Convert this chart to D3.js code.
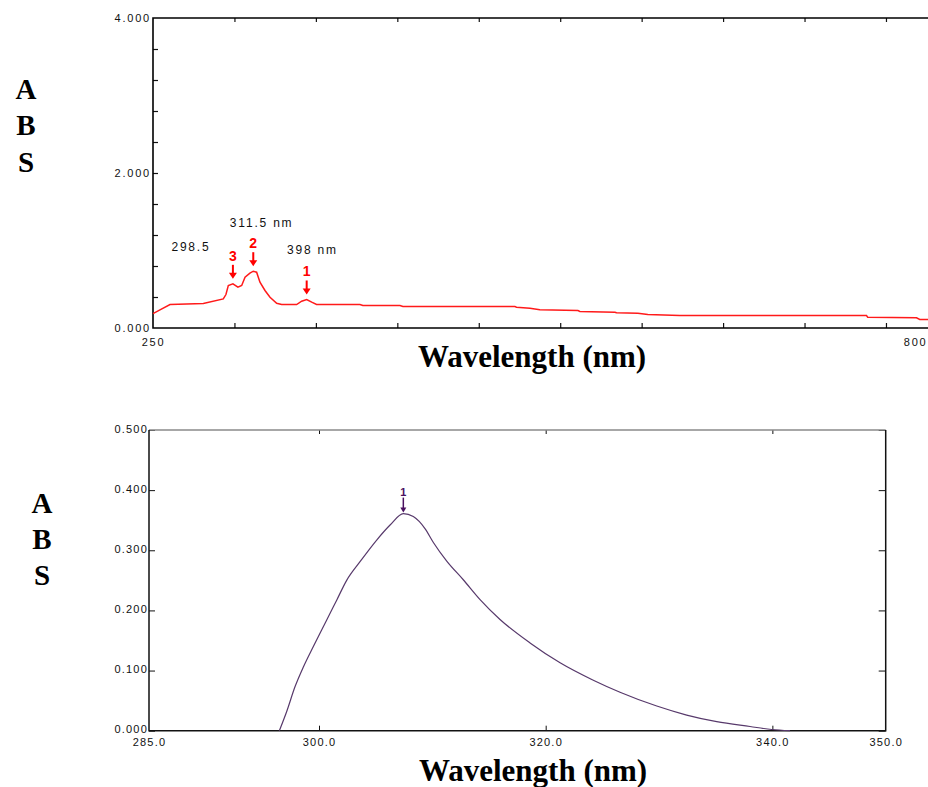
<!DOCTYPE html>
<html><head><meta charset="utf-8">
<script src="https://cdn.jsdelivr.net/npm/d3@7"></script>
<style>body{margin:0;background:#fff} svg{display:block}</style>
</head><body>
<script>
// ---------- DATA: top spectrum (250-800 nm) ----------
const topWavelength = [250, 255.0, 262.2, 286.1, 300.4, 302.3, 304.0, 307.3, 310.9, 313.6, 316.0, 319.5, 321.9, 324.3, 326.7, 330.3, 333.9, 338.7, 342.3, 353.0, 356.6, 360.2, 363.8, 367.3, 398.4, 400.5, 427.1, 429.2, 509.5, 510.7, 520.3, 527.4, 554.7, 556.1, 581.2, 582.4, 597.7, 604.8, 627.8, 761.6, 762.5, 797.5, 799.8, 806];
const topAbs        = [0.185, 0.235, 0.303, 0.315, 0.376, 0.432, 0.548, 0.570, 0.526, 0.548, 0.655, 0.707, 0.733, 0.720, 0.591, 0.484, 0.397, 0.320, 0.303, 0.303, 0.346, 0.368, 0.333, 0.303, 0.303, 0.290, 0.290, 0.277, 0.277, 0.268, 0.255, 0.235, 0.226, 0.213, 0.204, 0.196, 0.191, 0.174, 0.161, 0.161, 0.139, 0.132, 0.110, 0.110];
const topPeakNumbers = ["3", "2", "1"];
const topPeakWavelength = [307.3, 321.9, 360.2];
const topPeakAbs = [0.570, 0.733, 0.368];
const topNoteText = ["298.5", "311.5 nm", "398 nm"];
const topNoteWavelength = [277.2, 327.9, 364.3];
const topNoteAbs = [1.043, 1.352, 1.014];
const topXLabels = [250, 800];
const topYLabels = [0, 2, 4];
const topXTicks = d3.range(1, 10).map(i => 250 + i * 58.4);
const topYTicks = d3.range(1, 10).map(i => i * 0.4);

// ---------- DATA: bottom spectrum (285-350 nm) ----------
const botWavelength = [296.50, 297.15, 297.88, 298.62, 299.50, 300.68, 301.56, 302.44, 303.62, 305.09, 306.27, 307.44, 308.32, 309.35, 310.09, 311.27, 312.73, 314.21, 315.97, 318.62, 321.27, 324.20, 326.56, 329.80, 332.44, 335.09, 338.03, 339.95, 341.56];
const botAbs        = [0.000, 0.032, 0.073, 0.106, 0.140, 0.184, 0.217, 0.250, 0.281, 0.317, 0.342, 0.361, 0.356, 0.336, 0.313, 0.282, 0.251, 0.218, 0.185, 0.146, 0.113, 0.084, 0.064, 0.041, 0.026, 0.015, 0.007, 0.002, 0.000];
const botPeakNumbers = ["1"];
const botPeakWavelength = [307.44];
const botPeakAbs = [0.361];
const botXLabels = [285, 300, 320, 340, 350];
const botXTicks = [300, 320, 340];
const botYLabels = [0, 0.1, 0.2, 0.3, 0.4, 0.5];

const W = 928, H = 787;
const sans = "'Liberation Sans', Arial, sans-serif";
const serif = "'Liberation Serif', 'Times New Roman', serif";
const svg = d3.select("body").append("svg").attr("width", W).attr("height", H)
  .style("font-family", sans);

function clean(g) { g.select(".domain").remove(); return g; }

// ================= TOP CHART =================
const xT = d3.scaleLinear().domain([250, 800]).range([153, 920]);
const yT = d3.scaleLinear().domain([0, 4]).range([328, 18]);

svg.append("g").attr("transform", `translate(0,${yT(0)})`)
  .call(d3.axisBottom(xT).tickValues(topXTicks).tickSize(-5).tickFormat(""))
  .call(clean).selectAll("line").attr("stroke", "#111").attr("stroke-width", 1.2);
svg.append("g").attr("transform", `translate(0,${yT(4)})`)
  .call(d3.axisTop(xT).tickValues(topXTicks).tickSize(-4).tickFormat(""))
  .call(clean).selectAll("line").attr("stroke", "#111").attr("stroke-width", 1.2);
svg.append("g").attr("transform", `translate(${xT(250)},0)`)
  .call(d3.axisLeft(yT).tickValues(topYTicks).tickSize(-5).tickFormat(""))
  .call(clean).selectAll("line").attr("stroke", "#111").attr("stroke-width", 1.2);

const tl = svg.append("g").attr("transform", `translate(0,${yT(0)})`)
  .call(d3.axisBottom(xT).tickValues(topXLabels).tickSize(0).tickPadding(10).tickFormat(d => String(d)))
  .call(clean);
tl.selectAll("text").attr("font-size", 11).attr("fill", "#111").style("letter-spacing", "1.8px")
  .attr("font-family", sans)
  .attr("text-anchor", (d, i, n) => i === n.length - 1 ? "end" : "middle")
  .attr("x", (d, i, n) => i === n.length - 1 ? W - 1 - xT(d) : 0);
const tyl = svg.append("g").attr("transform", `translate(${xT(250)},0)`)
  .call(d3.axisLeft(yT).tickValues(topYLabels).tickSize(0).tickPadding(2).tickFormat(d3.format(".3f")))
  .call(clean);
tyl.selectAll("text").attr("font-size", 11).attr("fill", "#111").style("letter-spacing", "1.8px")
  .attr("font-family", sans);

svg.append("path")
  .attr("d", `M${W},${yT(4)}H${xT(250)}V${yT(0)}H${W}`)
  .attr("fill", "none").attr("stroke", "#000").attr("stroke-width", 1.6);

const topData = topWavelength.map((w, i) => [w, topAbs[i]]);
svg.append("path").datum(topData)
  .attr("d", d3.line().x(d => xT(d[0])).y(d => yT(d[1])))
  .attr("fill", "none").attr("stroke", "#ff1a1a").attr("stroke-width", 1.5);

topPeakNumbers.forEach((n, i) => {
  const px = xT(topPeakWavelength[i]), py = yT(topPeakAbs[i]);
  const tip = py - 5;
  svg.append("line").attr("x1", px).attr("x2", px).attr("y1", tip - 14).attr("y2", tip - 4)
    .attr("stroke", "#f00").attr("stroke-width", 2);
  svg.append("path").attr("d", `M${px - 4},${tip - 6}L${px + 4},${tip - 6}L${px},${tip}Z`).attr("fill", "#f00");
  svg.append("text").attr("x", px).attr("y", tip - 18).attr("text-anchor", "middle")
    .attr("font-size", 14).attr("font-weight", "bold").attr("fill", "#f00").text(n);
});
topNoteText.forEach((t, i) => {
  svg.append("text").attr("x", xT(topNoteWavelength[i])).attr("y", yT(topNoteAbs[i]))
    .attr("dy", "0.35em").attr("text-anchor", "middle").attr("font-size", 12)
    .style("letter-spacing", "1.8px").attr("fill", "#111").text(t);
});

// ================= BOTTOM CHART =================
const xB = d3.scaleLinear().domain([285, 350]).range([149, 885.7]);
const yB = d3.scaleLinear().domain([0, 0.5]).range([730.7, 430]);

svg.append("g").attr("transform", `translate(0,${yB(0)})`)
  .call(d3.axisBottom(xB).tickValues(botXTicks).tickSize(-5).tickFormat(""))
  .call(clean).selectAll("line").attr("stroke", "#111");
svg.append("g").attr("transform", `translate(0,${yB(0.5)})`)
  .call(d3.axisTop(xB).tickValues(botXTicks).tickSize(-4).tickFormat(""))
  .call(clean).selectAll("line").attr("stroke", "#111");
svg.append("g").attr("transform", `translate(${xB(285)},0)`)
  .call(d3.axisLeft(yB).tickValues(botYLabels).tickSize(-6).tickFormat(""))
  .call(clean).selectAll("line").attr("stroke", "#111");
svg.append("g").attr("transform", `translate(${xB(350)},0)`)
  .call(d3.axisRight(yB).tickValues(botYLabels).tickSize(-7).tickFormat(""))
  .call(clean).selectAll("line").attr("stroke", "#111");

const bxl = svg.append("g").attr("transform", `translate(0,${yB(0)})`)
  .call(d3.axisBottom(xB).tickValues(botXLabels).tickSize(0).tickPadding(8).tickFormat(d3.format(".1f")))
  .call(clean);
bxl.selectAll("text").attr("font-size", 11).attr("fill", "#111").style("letter-spacing", "1.2px")
  .attr("font-family", sans);
const byl = svg.append("g").attr("transform", `translate(${xB(285)},0)`)
  .call(d3.axisLeft(yB).tickValues(botYLabels).tickSize(0).tickPadding(1).tickFormat(d3.format(".3f")))
  .call(clean);
byl.selectAll("text").attr("font-size", 11).attr("fill", "#111").style("letter-spacing", "1.2px")
  .attr("dy", "0.2em").attr("font-family", sans);

svg.append("line").attr("x1", xB(285)).attr("x2", xB(350)).attr("y1", yB(0.5)).attr("y2", yB(0.5))
  .attr("stroke", "#8a8a8a").attr("stroke-width", 1.5);
svg.append("path").attr("d", `M${xB(285)},${yB(0.5)}V${yB(0)}H${xB(350)}V${yB(0.5)}`)
  .attr("fill", "none").attr("stroke", "#111").attr("stroke-width", 1.5);

const botData = botWavelength.map((w, i) => [w, botAbs[i]]);
svg.append("path").datum(botData)
  .attr("d", d3.line().x(d => xB(d[0])).y(d => yB(d[1])).curve(d3.curveMonotoneX))
  .attr("fill", "none").attr("stroke", "#57396b").attr("stroke-width", 1.2);

botPeakNumbers.forEach((n, i) => {
  const px = xB(botPeakWavelength[i]), py = yB(botPeakAbs[i]);
  const tip = py - 1;
  svg.append("line").attr("x1", px).attr("x2", px).attr("y1", tip - 15).attr("y2", tip - 4)
    .attr("stroke", "#4a1060").attr("stroke-width", 1.5);
  svg.append("path").attr("d", `M${px - 3},${tip - 5}L${px + 3},${tip - 5}L${px},${tip}Z`).attr("fill", "#4a1060");
  svg.append("text").attr("x", px).attr("y", tip - 17).attr("text-anchor", "middle")
    .attr("font-size", 11).attr("font-weight", "bold").attr("fill", "#4a1060").text(n);
});

// ================= TITLES =================
[["A", 99], ["B", 135], ["S", 171.5]].forEach(([t, y]) =>
  svg.append("text").attr("x", 26).attr("y", y).attr("text-anchor", "middle")
    .attr("font-family", serif).attr("font-weight", "bold").attr("font-size", 29).text(t));
[["A", 512.5], ["B", 549], ["S", 585]].forEach(([t, y]) =>
  svg.append("text").attr("x", 42).attr("y", y).attr("text-anchor", "middle")
    .attr("font-family", serif).attr("font-weight", "bold").attr("font-size", 29).text(t));
svg.append("text").attr("x", 532).attr("y", 366.5).attr("text-anchor", "middle")
  .attr("font-family", serif).attr("font-weight", "bold").attr("font-size", 31).text("Wavelength (nm)");
svg.append("text").attr("x", 533).attr("y", 781).attr("text-anchor", "middle")
  .attr("font-family", serif).attr("font-weight", "bold").attr("font-size", 31).text("Wavelength (nm)");
</script>
</body></html>
